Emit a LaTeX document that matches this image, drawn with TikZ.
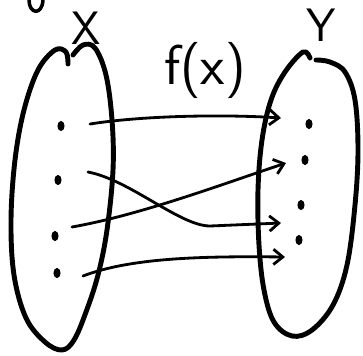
\documentclass[tikz,border=0pt]{standalone}
\usepackage{tikz}
\usetikzlibrary{arrows.meta,shapes.geometric}
\tikzset{
  set/.style={line width=4.2pt,line cap=round,line join=round},
  pt/.style={draw,fill,ellipse,minimum width=5pt,minimum height=7.5pt,inner sep=0pt,line width=1pt},
  arr/.style={line width=2.4pt,line cap=round,-{Straight Barb[length=8pt,width=13pt,line width=2.4pt]}},
  lbl/.style={font=\sffamily\fontsize{40}{40}\selectfont,inner sep=0pt}
}
\begin{document}
\begin{tikzpicture}[x=0.03cm,y=-0.03cm]
\useasboundingbox (0,0) rectangle (363,355);
% sets
\draw[set] plot[smooth,tension=0.6] coordinates {(68,64) (66,52) (55,50) (38,70) (24,110) (15,160) (11,220) (14,275) (26,318) (45,342) (62,350) (74,340) (86,312) (98,275) (107,230) (113,170) (112,120) (106,75) (95,48) (83,45) (73,55)};
\draw[set] plot[smooth,tension=0.6] coordinates {(310,58) (303,52) (285,72) (271,100) (262,140) (258,190) (259,245) (264,290) (274,322) (292,336) (312,330) (333,305) (347,265) (355,205) (358,150) (355,100) (345,72) (330,62) (316,60)};
\draw[line width=3pt,line cap=round] (29,0) .. controls (29,14) and (42,16) .. (43,0);
% labels
\node[lbl] (lx) at (86,28) {X};
\node[lbl] (ly) at (321,25) {Y};
\node[lbl,font=\sffamily\fontsize{48}{48}\selectfont] (lf) at (205,70) {f(x)};
% points
\foreach \n/\x/\y in {1/61/126,2/58/180,3/55/236,4/57/273}
  \node[pt] (x\n) at (\x,\y) {};
\foreach \n/\x/\y in {1/309/124,2/305/160,3/301/205,4/299/240}
  \node[pt] (y\n) at (\x,\y) {};
% arrow ends
\foreach \n/\x/\y in {1/90/124,2/88/172,3/72/227,4/83/276}
  \coordinate (t\n) at (\x,\y);
\foreach \n/\x/\y in {1/281/118,2/286/163,3/281/223,4/285/257}
  \coordinate (h\n) at (\x,\y);
\draw[arr] (t1) .. controls (140,116) and (220,114) .. (h1);
\draw[arr] (t3) .. controls (140,215) and (220,185) .. (h2);
\draw[arr] (t2) .. controls (130,180) and (180,226) .. (210,226) -- (h3);
\draw[arr] (t4) .. controls (130,258) and (200,256) .. (h4);
\end{tikzpicture}
\end{document}
